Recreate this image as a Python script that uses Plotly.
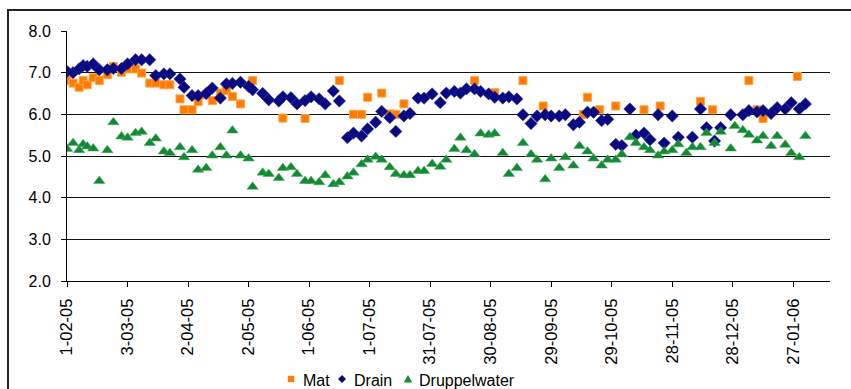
import pandas as pd
import plotly.graph_objects as go

# pH measurements, days counted from 1 February 2005
start = pd.Timestamp("2005-02-01")

dag_mat = [
    0, 3, 6, 8, 10, 13, 16, 20, 23, 27,
    30, 34, 37, 41, 44, 48, 51, 56, 58, 62,
    65, 69, 72, 76, 79, 82, 86, 92, 107, 118,
    135, 142, 146, 149, 156, 160, 163, 167, 202, 212,
    226, 236, 256, 258, 264, 272, 286, 294, 314, 320,
    338, 342, 345, 362,
]
mat = [
    6.81, 6.75, 6.65, 6.81, 6.71, 6.88, 6.81, 6.95, 7.15, 7.01,
    7.09, 7.09, 6.99, 6.75, 6.75, 6.71, 6.71, 6.37, 6.11, 6.11,
    6.31, 6.47, 6.33, 6.51, 6.57, 6.43, 6.25, 6.81, 5.91, 5.90,
    6.81, 6.00, 6.00, 6.41, 6.51, 6.01, 6.00, 6.25, 6.81, 6.52,
    6.81, 6.20, 6.00, 6.41, 6.11, 6.20, 6.11, 6.20, 6.31, 6.11,
    6.81, 6.11, 5.90, 6.91,
]

dag_drain = [
    0, 3, 6, 8, 10, 13, 16, 20, 23, 27,
    30, 34, 37, 41, 44, 48, 51, 56, 58, 62,
    65, 69, 72, 76, 79, 82, 86, 90, 92, 97,
    100, 105, 107, 111, 114, 118, 121, 125, 128, 132,
    135, 139, 142, 146, 149, 153, 156, 160, 163, 167,
    170, 174, 177, 181, 185, 188, 192, 195, 198, 202,
    205, 209, 212, 216, 219, 223, 226, 230, 233, 237,
    240, 244, 247, 251, 254, 258, 261, 265, 268, 272,
    275, 279, 282, 286, 289, 293, 296, 300, 303, 310,
    314, 317, 321, 324, 329, 335, 338, 342, 345, 349,
    352, 356, 359, 363, 366,
]
drain = [
    7.03, 7.00, 7.09, 7.17, 7.15, 7.21, 7.07, 7.07, 7.10, 7.10,
    7.21, 7.31, 7.31, 7.31, 6.93, 6.97, 6.97, 6.85, 6.65, 6.45,
    6.45, 6.50, 6.63, 6.39, 6.73, 6.74, 6.77, 6.67, 6.59, 6.50,
    6.35, 6.32, 6.42, 6.40, 6.25, 6.33, 6.42, 6.37, 6.25, 6.56,
    6.32, 5.44, 5.55, 5.48, 5.65, 5.81, 6.07, 5.92, 5.59, 5.96,
    6.02, 6.39, 6.39, 6.49, 6.28, 6.51, 6.55, 6.51, 6.61, 6.61,
    6.55, 6.49, 6.41, 6.39, 6.42, 6.37, 5.99, 5.78, 5.96, 5.99,
    5.96, 5.96, 5.99, 5.75, 5.81, 6.05, 6.05, 5.85, 5.88, 5.28,
    5.25, 6.13, 5.50, 5.55, 5.39, 5.99, 5.31, 5.96, 5.45, 5.45,
    6.13, 5.68, 5.36, 5.68, 5.99, 5.99, 6.09, 6.06, 6.09, 6.02,
    6.16, 6.13, 6.28, 6.13, 6.25,
]

dag_druppel = [
    0, 3, 6, 8, 10, 13, 16, 20, 23, 27,
    30, 34, 37, 41, 44, 48, 51, 56, 58, 62,
    65, 69, 72, 76, 79, 82, 86, 90, 92, 97,
    100, 105, 107, 111, 114, 118, 121, 125, 128, 132,
    135, 139, 142, 146, 149, 153, 156, 160, 163, 167,
    170, 174, 177, 181, 185, 188, 192, 195, 198, 202,
    205, 209, 212, 216, 219, 223, 226, 230, 233, 237,
    240, 244, 247, 251, 254, 258, 261, 265, 268, 272,
    275, 279, 282, 286, 289, 293, 296, 300, 303, 307,
    310, 314, 317, 321, 324, 329, 331, 335, 338, 342,
    345, 349, 352, 356, 359, 363, 366,
]
druppelwater = [
    5.17, 5.31, 5.14, 5.28, 5.23, 5.18, 4.40, 5.14, 5.81, 5.47,
    5.44, 5.55, 5.58, 5.31, 5.42, 5.11, 5.07, 5.21, 4.97, 5.14,
    4.67, 4.71, 5.01, 5.21, 5.01, 5.61, 5.01, 4.94, 4.26, 4.60,
    4.57, 4.47, 4.71, 4.73, 4.57, 4.40, 4.40, 4.37, 4.54, 4.32,
    4.37, 4.51, 4.60, 4.80, 4.91, 4.98, 4.91, 4.73, 4.57, 4.54,
    4.54, 4.64, 4.64, 4.81, 4.74, 4.91, 5.17, 5.44, 5.14, 5.04,
    5.54, 5.51, 5.54, 5.07, 4.57, 4.71, 5.31, 5.04, 4.91, 4.44,
    4.94, 4.71, 4.97, 4.77, 5.24, 5.11, 4.94, 4.77, 4.91, 4.91,
    5.04, 5.45, 5.31, 5.21, 5.14, 5.01, 5.11, 5.14, 5.28, 5.07,
    5.21, 5.21, 5.55, 5.31, 5.58, 5.18, 5.72, 5.62, 5.51, 5.37,
    5.48, 5.24, 5.48, 5.27, 5.07, 4.97, 5.48,
]

series_names = ["Mat", "Drain", "Druppelwater"]
series_colors = ["#FF7A00", "#0A0A80", "#118A33"]


def to_dates(days):
    return start + pd.to_timedelta(days, unit="D")


FONT = "Liberation Sans, Arial, sans-serif"

fig = go.Figure()
fig.add_trace(go.Scatter(
    x=to_dates(dag_mat), y=mat, mode="markers", name=series_names[0],
    marker=dict(symbol="square", size=8, color=series_colors[0],
                line=dict(color="#FFA640", width=1)),
))
fig.add_trace(go.Scatter(
    x=to_dates(dag_drain), y=drain, mode="markers", name=series_names[1],
    marker=dict(symbol="diamond", size=9.5, color=series_colors[1],
                line=dict(color="#2A2A9A", width=0.5)),
))
fig.add_trace(go.Scatter(
    x=to_dates(dag_druppel), y=druppelwater, mode="markers", name=series_names[2],
    marker=dict(symbol="triangle-up", size=10, color=series_colors[2],
                line=dict(color="#4AAA66", width=0.5)),
))

# plot area in pixels: x 67..830, y 31..281
W, H = 851, 389
L, R, T, B = 67, 21, 31, 108
pw, ph = W - L - R, H - T - B


def px(x):
    return (x - L) / pw


def py(y):
    return (H - B - y) / ph


# outer chart frame (runs past the right and bottom edges)
fig.add_shape(
    type="rect", xref="paper", yref="paper",
    x0=px(8), x1=px(856), y0=py(396), y1=py(10),
    line=dict(color="#222222", width=2), fillcolor="rgba(0,0,0,0)",
    layer="below",
)

# legend row below the axis: symbol + label per series
legend_y = 379
sym_x = [291, 342, 408]
text_x = [301, 352, 417]
s = 3.2
fig.add_shape(type="rect", xref="paper", yref="paper",
              x0=px(sym_x[0] - s), x1=px(sym_x[0] + s),
              y0=py(legend_y + s), y1=py(legend_y - s),
              fillcolor=series_colors[0], line=dict(width=0))
d = 4
fig.add_shape(type="path", xref="paper", yref="paper",
              path=(f"M {px(sym_x[1] - d)},{py(legend_y)} "
                    f"L {px(sym_x[1])},{py(legend_y - d)} "
                    f"L {px(sym_x[1] + d)},{py(legend_y)} "
                    f"L {px(sym_x[1])},{py(legend_y + d)} Z"),
              fillcolor=series_colors[1], line=dict(width=0))
t = 4.2
fig.add_shape(type="path", xref="paper", yref="paper",
              path=(f"M {px(sym_x[2] - t)},{py(legend_y + 3.5)} "
                    f"L {px(sym_x[2] + t)},{py(legend_y + 3.5)} "
                    f"L {px(sym_x[2])},{py(legend_y - 4)} Z"),
              fillcolor=series_colors[2], line=dict(width=0))
for name, tx in zip(series_names, text_x):
    fig.add_annotation(
        x=px(tx), y=py(legend_y + 1), xref="paper", yref="paper",
        text=name, showarrow=False, xanchor="left", yanchor="middle",
        font=dict(family=FONT, size=16, color="black"),
    )

fig.update_layout(
    width=W, height=H,
    margin=dict(l=L, r=R, t=T, b=B, pad=0, autoexpand=False),
    paper_bgcolor="white", plot_bgcolor="white",
    font=dict(family=FONT, size=16, color="black"),
    showlegend=False,
    xaxis=dict(
        type="date",
        range=[start, start + pd.Timedelta(days=378.2)],
        tick0=start, dtick=30 * 86400000,
        tickformat="%-d-%m-%y", tickangle=-90,
        ticks="outside", ticklen=5, tickcolor="black", tickwidth=1,
        ticklabelstandoff=5,
        showline=True, linecolor="black", linewidth=1,
        showgrid=False, zeroline=False,
        tickfont=dict(family=FONT, size=16.5, color="black"),
    ),
    yaxis=dict(
        range=[2, 8], dtick=1, tickformat=".1f",
        ticks="outside", ticklen=5, tickcolor="black", tickwidth=1,
        ticklabelstandoff=7,
        showline=True, linecolor="black", linewidth=1,
        showgrid=True, gridcolor="#111111", gridwidth=1,
        zeroline=False,
        tickfont=dict(family=FONT, size=16, color="black"),
    ),
)

fig.write_html("out.html")
